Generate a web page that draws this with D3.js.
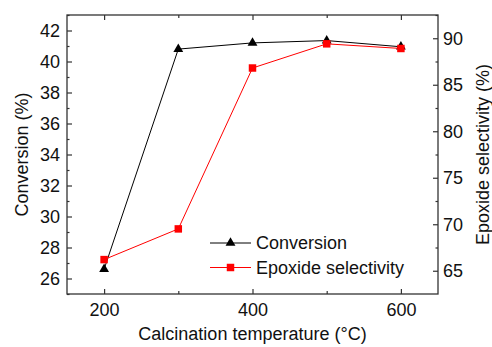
<!DOCTYPE html>
<html>
<head>
<meta charset="utf-8">
<script src="https://cdn.jsdelivr.net/npm/d3@7"></script>
<style>
  body { margin: 0; background: #fff; }
  svg { font-family: "Liberation Sans", Arial, sans-serif; }
</style>
</head>
<body>
<svg id="chart" width="492" height="347"></svg>
<script>
var temps = [200, 300, 400, 500, 600];
var conversion = [26.6, 40.8, 41.2, 41.35, 40.95];
var selectivity = [66.2, 69.5, 86.8, 89.4, 88.9];
var leftTicks = [26, 28, 30, 32, 34, 36, 38, 40, 42];
var rightTicks = [65, 70, 75, 80, 85, 90];
var xTicks = [200, 400, 600];

var svg = d3.select('#chart');
var plotL = 67, plotR = 438, plotT = 15, plotB = 294;

var x = d3.scaleLinear().domain([150, 650]).range([plotL, plotR]);
var yL = d3.scaleLinear().domain([25, 43]).range([plotB, plotT]);
var yR = d3.scaleLinear().domain([62.5, 92.5]).range([plotB, plotT]);

var axisColor = '#333';
var fs = '18px';

// frame
svg.append('rect')
    .attr('x', plotL).attr('y', plotT)
    .attr('width', plotR - plotL).attr('height', plotB - plotT)
    .style('fill', 'none').style('stroke', axisColor).style('stroke-width', 1.3);

// bottom axis (ticks inward)
var gx = svg.append('g').attr('transform', 'translate(0,' + plotB + ')')
    .call(d3.axisTop(x).tickValues(temps).tickSize(5).tickFormat(''));
gx.select('.domain').remove();
gx.selectAll('.tick').filter(function(d) { return xTicks.indexOf(d) < 0; })
    .select('line').attr('y2', -3);
var gxLab = svg.append('g').attr('transform', 'translate(0,' + plotB + ')')
    .call(d3.axisBottom(x).tickValues(xTicks).tickSize(0).tickPadding(9));
gxLab.select('.domain').remove();

// top axis (ticks inward, no labels)
var gt = svg.append('g').attr('transform', 'translate(0,' + plotT + ')')
    .call(d3.axisBottom(x).tickValues(temps).tickSize(5).tickFormat(''));
gt.select('.domain').remove();
gt.selectAll('.tick').filter(function(d) { return xTicks.indexOf(d) < 0; })
    .select('line').attr('y2', 3);

// left axis
var gl = svg.append('g').attr('transform', 'translate(' + plotL + ',0)')
    .call(d3.axisRight(yL).tickValues(d3.range(25, 44, 1)).tickSize(5).tickFormat(''));
gl.select('.domain').remove();
gl.selectAll('.tick').filter(function(d) { return leftTicks.indexOf(d) < 0; })
    .select('line').attr('x2', 2.5);
var glLab = svg.append('g').attr('transform', 'translate(' + plotL + ',0)')
    .call(d3.axisLeft(yL).tickValues(leftTicks).tickSize(0).tickPadding(7));
glLab.select('.domain').remove();

// right axis
var gr = svg.append('g').attr('transform', 'translate(' + plotR + ',0)')
    .call(d3.axisLeft(yR).tickValues(d3.range(65, 92.6, 2.5)).tickSize(5).tickFormat(''));
gr.select('.domain').remove();
gr.selectAll('.tick').filter(function(d) { return rightTicks.indexOf(d) < 0; })
    .select('line').attr('x2', -2.5);
var grLab = svg.append('g').attr('transform', 'translate(' + plotR + ',0)')
    .call(d3.axisRight(yR).tickValues(rightTicks).tickSize(0).tickPadding(5));
grLab.select('.domain').remove();

svg.selectAll('.tick line').style('stroke', axisColor).style('stroke-width', 1.2);
svg.selectAll('.tick text').style('font-size', fs).style('fill', '#111')
    .attr('font-family', null);

// axis titles
svg.append('text')
    .attr('x', (plotL + plotR) / 2).attr('y', 340)
    .attr('text-anchor', 'middle').style('font-size', fs).style('fill', '#111')
    .text('Calcination temperature (°C)');
svg.append('text')
    .attr('transform', 'translate(22,' + (plotT + plotB) / 2 + ') rotate(-90)')
    .attr('text-anchor', 'middle').attr('dy', '0.35em')
    .style('font-size', fs).style('fill', '#111')
    .text('Conversion (%)');
svg.append('text')
    .attr('transform', 'translate(483,' + (plotT + plotB) / 2 + ') rotate(-90)')
    .attr('text-anchor', 'middle').attr('dy', '0.35em')
    .style('font-size', fs).style('fill', '#111')
    .text('Epoxide selectivity (%)');

var triangle = d3.symbol().type(d3.symbolTriangle).size(42);
var square = d3.symbol().type(d3.symbolSquare).size(56);

// conversion series
var convData = temps.map(function(t, i) { return { t: t, v: conversion[i] }; });
svg.append('path').datum(convData)
    .attr('d', d3.line().x(function(d) { return x(d.t); }).y(function(d) { return yL(d.v); }))
    .style('fill', 'none').style('stroke', '#000').style('stroke-width', 1);
svg.selectAll('.tri').data(convData).enter().append('path')
    .attr('class', 'tri')
    .attr('transform', function(d) { return 'translate(' + x(d.t) + ',' + yL(d.v) + ')'; })
    .attr('d', triangle).style('fill', '#000');

// selectivity series
var selData = temps.map(function(t, i) { return { t: t, v: selectivity[i] }; });
svg.append('path').datum(selData)
    .attr('d', d3.line().x(function(d) { return x(d.t); }).y(function(d) { return yR(d.v); }))
    .style('fill', 'none').style('stroke', '#ff0000').style('stroke-width', 1);
svg.selectAll('.sq').data(selData).enter().append('path')
    .attr('class', 'sq')
    .attr('transform', function(d) { return 'translate(' + x(d.t) + ',' + yR(d.v) + ')'; })
    .attr('d', square).style('fill', '#ff0000');

// legend
var legend = [
    { name: 'Conversion', color: '#000', sym: triangle, y: 243 },
    { name: 'Epoxide selectivity', color: '#ff0000', sym: square, y: 267.5 }
];
legend.forEach(function(l) {
    var g = svg.append('g');
    g.append('line').attr('x1', 210).attr('x2', 251).attr('y1', l.y).attr('y2', l.y)
        .style('stroke', l.color).style('stroke-width', 1);
    g.append('path').attr('transform', 'translate(230.5,' + l.y + ')')
        .attr('d', l.sym).style('fill', l.color);
    g.append('text').attr('x', 256).attr('y', l.y).attr('dy', '0.35em')
        .style('font-size', fs).style('fill', '#111').text(l.name);
});
</script>
</body>
</html>
